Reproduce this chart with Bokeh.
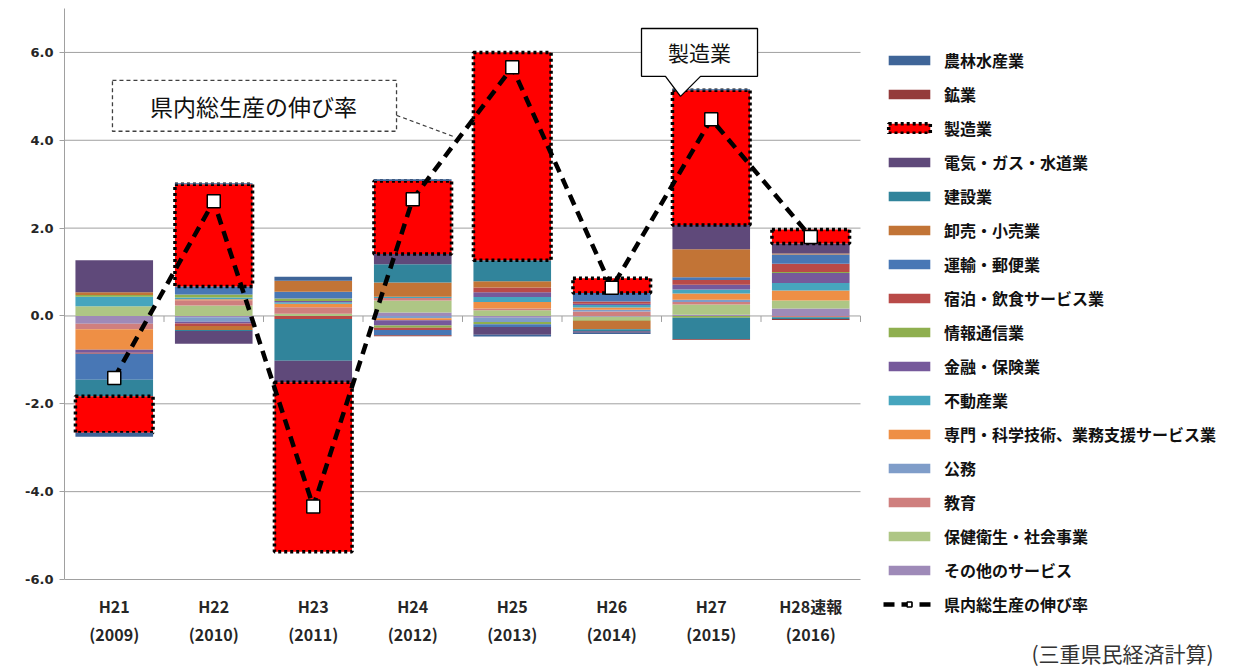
from bokeh.plotting import figure
from bokeh.models import (Range1d, ColumnDataSource, FixedTicker, Legend, LegendItem,
                          Label, PrintfTickFormatter)
from bokeh.core.properties import value
from bokeh.embed import file_html
from bokeh.resources import INLINE

# ---------------- data ----------------
year_codes = ["H21", "H22", "H23", "H24", "H25", "H26", "H27", "H28速報"]
year_ad = ["(2009)", "(2010)", "(2011)", "(2012)", "(2013)", "(2014)", "(2015)", "(2016)"]

industries = ["農林水産業", "鉱業", "製造業", "電気・ガス・水道業", "建設業",
              "卸売・小売業", "運輸・郵便業", "宿泊・飲食サービス業", "情報通信業",
              "金融・保険業", "不動産業", "専門・科学技術、業務支援サービス業",
              "公務", "教育", "保健衛生・社会事業", "その他のサービス"]

colors = ["#3F6598", "#943B3A", "#FF0000", "#5F497A", "#31849B",
          "#C27436", "#4877B5", "#B94A48", "#8FAF4F",
          "#76599B", "#46A5BE", "#EE8F45",
          "#7F9DC9", "#CF7F7E", "#AEC685", "#9E8AB8"]

agri    = [-0.09, 0.02, 0.09, 0.04, -0.04, -0.03, 0.02, 0.00]
mining  = [0.00, 0.00, 0.00, -0.02, 0.00, 0.00, -0.02, -0.02]
manuf   = [-0.83, 2.33, -3.86, 1.66, 4.73, 0.34, 3.07, 0.32]
util    = [0.73, -0.29, -0.49, 0.23, -0.18, -0.03, 0.55, 0.23]
constr  = [-0.38, -0.02, -0.95, 0.42, 0.48, -0.05, -0.49, -0.04]
trade   = [0.06, -0.09, 0.25, 0.32, 0.14, -0.19, 0.64, 0.02]
transp  = [-0.59, 0.18, 0.15, -0.12, -0.06, 0.19, 0.06, 0.21]
hotel   = [-0.02, -0.06, -0.07, -0.05, 0.11, 0.05, 0.11, 0.19]
info    = [0.04, 0.07, 0.06, -0.05, -0.05, -0.02, -0.04, 0.02]
fin     = [-0.07, -0.04, 0.03, -0.12, 0.11, 0.03, 0.11, 0.23]
realest = [0.22, 0.04, 0.03, 0.03, 0.11, 0.06, 0.09, 0.17]
prof    = [-0.47, 0.02, 0.08, -0.05, 0.15, 0.05, 0.14, 0.23]
public  = [0.00, -0.10, 0.00, -0.05, -0.10, 0.04, 0.05, 0.00]
edu     = [-0.12, 0.12, 0.15, 0.06, 0.04, 0.10, 0.06, -0.03]
health  = [0.22, 0.24, 0.05, 0.27, 0.13, -0.07, 0.23, 0.18]
other   = [-0.18, -0.03, 0.00, 0.08, -0.04, -0.02, 0.03, 0.17]

growth  = [-1.41, 2.61, -4.34, 2.66, 5.66, 0.64, 4.48, 1.80]

series = [agri, mining, manuf, util, constr, trade, transp, hotel, info,
          fin, realest, prof, public, edu, health, other]

y_ticks = [-6, -4, -2, 0, 2, 4, 6]
Y_MIN, Y_MAX = -6, 7

GRID = "#A0A0A0"
JP = "Noto Sans CJK JP"

# ---------------- figure ----------------
n = len(year_codes)
x_centers = [i + 0.5 for i in range(n)]

PX_PER_CAT = 99.5            # category width in pixels
FRAME_W = 1245 - 64
FRAME_H = 669 - 8
px_per_unit = 571 / (Y_MAX - Y_MIN)
y_low = Y_MIN - (FRAME_H - 571) / px_per_unit

p = figure(frame_width=FRAME_W, frame_height=FRAME_H,
           x_range=Range1d(0, FRAME_W / PX_PER_CAT), y_range=Range1d(y_low, Y_MAX),
           output_backend="svg", toolbar_location=None,
           x_axis_location=None,
           min_border_left=64, min_border_right=0,
           min_border_top=8, min_border_bottom=0,
           background_fill_color="white", border_fill_color="white")
p.outline_line_color = None
p.grid.visible = False

p.yaxis.ticker = FixedTicker(ticks=y_ticks)
p.yaxis.bounds = (Y_MIN, Y_MAX)
p.yaxis.formatter = PrintfTickFormatter(format="%.1f")
p.yaxis.axis_line_color = GRID
p.yaxis.major_tick_line_color = GRID
p.yaxis.major_tick_in = 0
p.yaxis.major_tick_out = 5
p.yaxis.minor_tick_line_color = None
p.yaxis.major_label_text_font = "DejaVu Sans"
p.yaxis.major_label_text_font_style = "bold"
p.yaxis.major_label_text_font_size = "13px"
p.yaxis.major_label_text_color = "#262626"
p.yaxis.major_label_standoff = 6

# horizontal gridlines limited to the plotting area
p.segment(x0=[0] * len(y_ticks), y0=y_ticks, x1=[n] * len(y_ticks), y1=y_ticks,
          line_color=GRID, line_width=1)

# category labels under the plot
lab_src = ColumnDataSource(dict(x=x_centers, code=year_codes, ad=year_ad,
                                y1=[Y_MIN - 26 / px_per_unit] * n,
                                y2=[Y_MIN - 54 / px_per_unit] * n))
p.text(x="x", y="y1", text="code", source=lab_src, text_align="center",
       text_baseline="middle", text_font=value(JP), text_font_style="bold",
       text_font_size="16px", text_color="#262626")
p.text(x="x", y="y2", text="ad", source=lab_src, text_align="center",
       text_baseline="middle", text_font=value(JP), text_font_style="bold",
       text_font_size="16px", text_color="#262626")

# ---------------- stacked bars ----------------
pos_base = [0.0] * n
neg_base = [0.0] * n
renderers = {}
for k in reversed(range(len(industries))):
    xs, bots, tops = [], [], []
    for i, v in enumerate(series[k]):
        if v > 0:
            xs.append(x_centers[i]); bots.append(pos_base[i]); tops.append(pos_base[i] + v)
            pos_base[i] += v
        elif v < 0:
            xs.append(x_centers[i]); bots.append(neg_base[i] + v); tops.append(neg_base[i])
            neg_base[i] += v
    src = ColumnDataSource(dict(x=xs, bottom=bots, top=tops))
    if industries[k] == "製造業":
        r = p.vbar(x="x", bottom="bottom", top="top", width=0.78, source=src,
                   fill_color=colors[k], line_color="black", line_dash="3 3", line_width=3.5)
    else:
        r = p.vbar(x="x", bottom="bottom", top="top", width=0.78, source=src,
                   fill_color=colors[k], line_color=None)
    renderers[k] = r

# tick marks of the category axis at value 0
bounds = list(range(n + 1))
p.segment(x0=bounds, y0=[0] * len(bounds), x1=bounds, y1=[-6 / px_per_unit] * len(bounds),
          line_color=GRID, line_width=1)

# ---------------- growth line ----------------
lsrc = ColumnDataSource(dict(x=x_centers, y=growth))
ln = p.line("x", "y", source=lsrc, line_color="black", line_width=4.5, line_dash="11 7")
sc = p.scatter("x", "y", source=lsrc, marker="square", size=13,
               fill_color="white", line_color="black", line_width=1.5)

# ---------------- callouts ----------------
p.quad(left=[0.482], right=[3.337], top=[5.364], bottom=[4.205],
       fill_color="white", line_color="#404040", line_dash="4 3", line_width=1.3)
p.line([3.337, 3.93], [4.568, 4.068], line_color="#404040", line_dash="4 3", line_width=1.2)
p.add_layout(Label(x=1.9, y=4.785, text="県内総生産の伸び率", text_align="center",
                   text_baseline="middle", text_font=JP,
                   text_font_size="23px", text_color="#111111"))

bx = [5.799, 6.965, 6.965, 6.392, 6.191, 6.040, 5.799]
by = [6.545, 6.545, 5.455, 5.455, 5.0, 5.455, 5.455]
p.patch(bx, by, fill_color="white", line_color="black", line_width=1.3)
p.add_layout(Label(x=6.382, y=6.0, text="製造業", text_align="center",
                   text_baseline="middle", text_font=JP,
                   text_font_size="21px", text_color="#111111"))

p.add_layout(Label(x=(1122 - 64) / PX_PER_CAT, y=Y_MAX - (652 - 8) / px_per_unit,
                   text="(三重県民経済計算)", text_align="center",
                   text_baseline="middle", text_font=JP,
                   text_font_size="21px", text_color="#333333"))

# ---------------- legend ----------------
items = [LegendItem(label=industries[k], renderers=[renderers[k]]) for k in range(len(industries))]
items.append(LegendItem(label="県内総生産の伸び率", renderers=[ln, sc]))
legend = Legend(items=items, location=(819, 53), orientation="vertical",
                glyph_width=52, glyph_height=12, label_height=21, spacing=10,
                label_standoff=9, padding=0, margin=0, border_line_color=None,
                background_fill_alpha=0, label_text_font=JP,
                label_text_font_style="bold", label_text_font_size="16px",
                label_text_color="#111111", label_text_baseline="middle")
p.add_layout(legend, "center")

open("out.html", "w").write(file_html(p, INLINE))
